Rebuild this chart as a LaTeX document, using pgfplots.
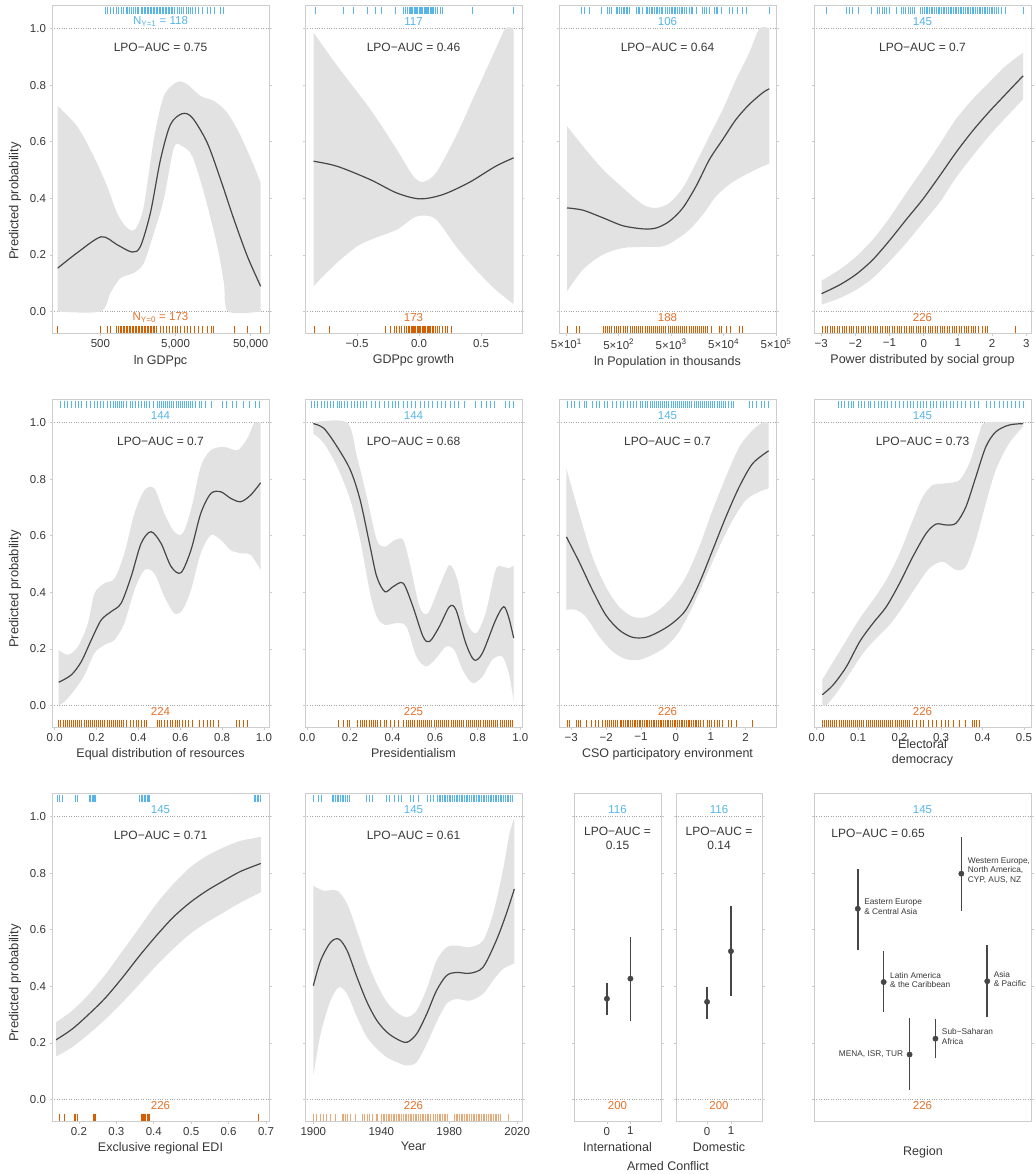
\documentclass[border=0pt]{standalone}
\usepackage{fontspec}
\setmainfont{Liberation Sans}
\usepackage{pgfplots}
\pgfplotsset{compat=1.18}
\usepgfplotslibrary{fillbetween}
\definecolor{rugblue}{RGB}{86,180,233}
\definecolor{rugorange}{RGB}{213,94,0}
\definecolor{txtorange}{RGB}{228,112,40}
\definecolor{bandc}{RGB}{226,226,226}
\definecolor{curvec}{RGB}{70,70,70}
\definecolor{framec}{RGB}{205,205,205}
\definecolor{dotc}{RGB}{165,165,165}
\definecolor{txt}{RGB}{55,55,55}

\pgfplotsset{
 pan/.style={
  scale only axis, width=217pt, height=328pt,
  ymin=-0.076, ymax=1.083,
  anchor=north west,
  axis line style={draw=framec, line width=0.8pt},
  ytick={0,0.2,0.4,0.6,0.8,1.0},
  yticklabels={},
  ytick pos=both, xtick pos=left,
  tick align=outside,
  major tick length=2.5pt,
  tick style={draw=framec, line width=0.7pt},
  tick label style={font=\fontsize{11.5}{13}\selectfont, text=txt},
  label style={font=\fontsize{12.5}{15}\selectfont, text=txt},
  extra y ticks={0,1},
  extra y tick labels={},
  extra y tick style={grid=major, major grid style={dotted, draw=dotc, line width=0.9pt}, major tick length=0pt},
  clip=true,
 },
 ylab/.style={yticklabels={0.0,0.2,0.4,0.6,0.8,1.0}},
}
\newcommand{\rugtop}[1]{\addplot[rugblue, only marks, mark=|, mark size=3.8pt, mark options={line width=1.0pt}] table[row sep=\\, header=false, x index=0, y expr=1.0635] {#1};}
\newcommand{\rugbot}[2][rugorange]{\addplot[#1, only marks, mark=|, mark size=3.5pt, mark options={line width=1.0pt}] table[row sep=\\, header=false, x index=0, y expr=-0.062] {#2};}
\newcommand{\counts}[2]{\node[font=\fontsize{11.5}{13}\selectfont, text=rugblue] at (rel axis cs:0.5,0.950) {#1};
 \node[font=\fontsize{11.5}{13}\selectfont, text=txtorange] at (rel axis cs:0.5,0.0466) {#2};}
\newcommand{\auc}[1]{\node[font=\fontsize{12}{14}\selectfont, text=txt] at (rel axis cs:0.5,0.872) {#1};}
\newcommand{\band}[3]{\addplot[name path=U#1, draw=none, smooth, no marks] coordinates {#2};
 \addplot[name path=L#1, draw=none, smooth, no marks] coordinates {#3};
 \addplot[fill=bandc, draw=none] fill between[of=U#1 and L#1];}
\newcommand{\meancurve}[1]{\addplot[draw=curvec, line width=1.2pt, smooth, no marks] coordinates {#1};}
\pgfplotsset{ptsty/.style={curvec, only marks, mark=*, mark size=2.7pt,
  error bars/.cd, y dir=both, y explicit, error bar style={line width=1.6pt, curvec}, error mark=none}}

\begin{document}
\begin{tikzpicture}

% ---------- Row 1 ----------
\begin{axis}[pan, ylab, at={(52pt,-5pt)}, xmin=2.055, xmax=4.943,
  xtick={2.69897,3.69897,4.69897}, xticklabels={500,{5,000},{50,000}}, xlabel={ln GDPpc}]
\band{a}{(2.130,0.726) (2.388,0.655) (2.610,0.549) (2.788,0.443) (2.921,0.348) (3.055,0.295) (3.166,0.292) (3.277,0.372) (3.410,0.608) (3.543,0.761) (3.721,0.811) (3.855,0.803) (4.032,0.761) (4.210,0.744) (4.388,0.702) (4.566,0.62) (4.743,0.514) (4.832,0.455)}
{(2.130,0) (2.699,0) (2.832,0.065) (2.966,0.118) (3.143,0.136) (3.277,0.171) (3.410,0.277) (3.543,0.396) (3.677,0.578) (3.788,0.584) (3.921,0.549) (4.077,0.419) (4.255,0.23) (4.343,0.10) (4.40,0) (4.832,0)}
\meancurve{(2.130,0.153) (2.388,0.207) (2.71,0.264) (2.921,0.236) (3.121,0.21) (3.232,0.23) (3.366,0.35) (3.499,0.537) (3.632,0.661) (3.788,0.699) (3.921,0.685) (4.121,0.596) (4.299,0.466) (4.477,0.325) (4.655,0.195) (4.832,0.089)}
\rugtop{2.77\\2.80\\2.84\\2.87\\2.91\\2.94\\2.98\\3.01\\3.04\\3.06\\3.09\\3.11\\3.14\\3.16\\3.19\\3.21\\3.24\\3.26\\3.28\\3.30\\3.32\\3.34\\3.36\\3.38\\3.40\\3.42\\3.44\\3.46\\3.48\\3.50\\3.52\\3.54\\3.56\\3.58\\3.60\\3.62\\3.64\\3.66\\3.69\\3.72\\3.75\\3.78\\3.81\\3.84\\3.87\\3.90\\3.93\\3.96\\4.00\\4.06\\4.12\\4.16\\4.22\\4.30\\4.34\\}
\rugbot{2.13\\2.70\\2.79\\2.83\\2.92\\2.94\\2.96\\2.98\\3.00\\3.02\\3.04\\3.06\\3.08\\3.10\\3.12\\3.14\\3.16\\3.18\\3.20\\3.22\\3.24\\3.26\\3.28\\3.30\\3.32\\3.34\\3.36\\3.38\\3.40\\3.42\\3.45\\3.50\\3.54\\3.58\\3.62\\3.66\\3.70\\3.73\\3.77\\3.82\\3.86\\3.90\\3.95\\4.00\\4.06\\4.12\\4.18\\4.21\\4.48\\4.66\\4.83\\}
\counts{N\textsubscript{Y=1} = 118}{N\textsubscript{Y=0} = 173}
\auc{LPO−AUC = 0.75}
\end{axis}

\begin{axis}[pan, at={(305pt,-5pt)}, xmin=-0.92, xmax=0.83,
  xtick={-0.5,0,0.5}, xticklabels={−0.5,0.0,0.5}, xlabel={GDPpc growth}]
\band{b}{(-0.851,0.986) (-0.660,0.868) (-0.394,0.715) (-0.181,0.573) (-0.048,0.479) (0.032,0.458) (0.138,0.491) (0.298,0.62) (0.457,0.773) (0.617,0.927) (0.697,1.0) (0.763,1.0)}
{(-0.851,0.09) (-0.660,0.173) (-0.500,0.23) (-0.394,0.253) (-0.181,0.289) (-0.048,0.33) (0.032,0.339) (0.138,0.325) (0.298,0.23) (0.457,0.148) (0.617,0.077) (0.763,0.026)}
\meancurve{(-0.851,0.531) (-0.660,0.513) (-0.394,0.466) (-0.181,0.419) (0.005,0.398) (0.191,0.413) (0.404,0.456) (0.617,0.513) (0.763,0.543)}
\rugtop{-0.832\\-0.606\\-0.527\\-0.42\\-0.354\\-0.30\\-0.194\\-0.128\\-0.11\\-0.095\\-0.08\\-0.07\\-0.06\\-0.05\\-0.04\\-0.03\\-0.02\\-0.01\\0.00\\0.01\\0.02\\0.03\\0.04\\0.05\\0.06\\0.07\\0.08\\0.09\\0.10\\0.11\\0.12\\0.13\\0.15\\0.17\\0.19\\0.431\\0.763\\}
\rugbot{-0.846\\-0.726\\-0.274\\-0.234\\-0.2\\-0.18\\-0.16\\-0.14\\-0.12\\-0.1\\-0.088\\-0.075\\-0.065\\-0.055\\-0.045\\-0.035\\-0.025\\-0.015\\-0.005\\0.005\\0.015\\0.025\\0.035\\0.045\\0.055\\0.065\\0.075\\0.085\\0.095\\0.105\\0.12\\0.135\\0.15\\0.165\\0.19\\0.21\\0.23\\0.26\\}
\counts{117}{173}
\auc{LPO−AUC = 0.46}
\end{axis}

\begin{axis}[pan, at={(559pt,-5pt)}, xmin=1.559, xmax=5.699,
  xtick={1.699,2.699,3.699,4.699,5.699},
  xticklabels={5×10\textsuperscript{1},5×10\textsuperscript{2},5×10\textsuperscript{3},5×10\textsuperscript{4},5×10\textsuperscript{5}},
  xlabel={ln Population in thousands}]
\band{c}{(1.712,0.655) (2.016,0.584) (2.397,0.502) (2.778,0.437) (3.159,0.378) (3.413,0.366) (3.667,0.384) (3.921,0.437) (4.175,0.525) (4.429,0.62) (4.683,0.714) (4.937,0.82) (5.191,0.915) (5.382,1.0) (5.572,1.0)}
{(1.712,0.071) (2.016,0.148) (2.397,0.201) (2.778,0.224) (3.159,0.228) (3.540,0.23) (3.794,0.254) (4.048,0.289) (4.302,0.342) (4.556,0.407) (4.810,0.449) (5.064,0.478) (5.318,0.502) (5.572,0.523)}
\meancurve{(1.712,0.366) (2.016,0.358) (2.397,0.331) (2.778,0.303) (3.159,0.292) (3.413,0.295) (3.667,0.319) (3.921,0.366) (4.175,0.443) (4.429,0.537) (4.683,0.608) (4.937,0.679) (5.191,0.732) (5.445,0.773) (5.572,0.787)}
\rugtop{1.985\\2.048\\2.143\\2.366\\2.49\\2.53\\2.56\\2.65\\2.68\\2.72\\2.75\\2.78\\2.81\\2.84\\2.87\\2.905\\3.03\\3.07\\3.10\\3.16\\3.22\\3.25\\3.29\\3.32\\3.35\\3.38\\3.41\\3.44\\3.48\\3.51\\3.54\\3.60\\3.63\\3.67\\3.70\\3.73\\3.76\\3.79\\3.82\\3.86\\3.89\\3.92\\3.95\\3.985\\4.05\\4.08\\4.11\\4.175\\4.30\\4.33\\4.37\\4.43\\4.52\\4.56\\4.59\\4.65\\4.81\\4.87\\4.97\\5.06\\5.13\\5.57\\}
\rugbot{1.73\\1.89\\1.95\\2.40\\2.44\\2.48\\2.52\\2.56\\2.62\\2.66\\2.70\\2.74\\2.78\\2.82\\2.86\\2.92\\2.96\\3.00\\3.04\\3.08\\3.12\\3.16\\3.20\\3.24\\3.28\\3.32\\3.36\\3.40\\3.44\\3.48\\3.52\\3.56\\3.60\\3.64\\3.68\\3.72\\3.76\\3.80\\3.84\\3.88\\3.92\\3.96\\4.00\\4.04\\4.08\\4.12\\4.16\\4.20\\4.24\\4.28\\4.32\\4.36\\4.40\\4.46\\4.62\\4.66\\4.75\\4.84\\5.00\\5.06\\}
\counts{106}{188}
\auc{LPO−AUC = 0.64}
\end{axis}

\begin{axis}[pan, at={(814pt,-5pt)}, xmin=-3.21, xmax=3.14,
  xtick={-3,-2,-1,0,1,2,3}, xticklabels={−3,−2,−1,0,1,2,3}, xlabel={Power distributed by social group}]
\band{d}{(-2.99,0.109) (-2.46,0.148) (-1.97,0.195) (-1.49,0.254) (-1.00,0.331) (-0.51,0.419) (-0.03,0.502) (0.46,0.59) (0.94,0.679) (1.43,0.75) (1.91,0.809) (2.40,0.868) (2.91,0.915)}
{(-2.99,0.024) (-2.46,0.047) (-1.97,0.077) (-1.49,0.118) (-1.00,0.177) (-0.51,0.242) (-0.03,0.313) (0.46,0.384) (0.94,0.472) (1.43,0.549) (1.91,0.62) (2.40,0.685) (2.91,0.75)}
\meancurve{(-2.99,0.063) (-2.46,0.094) (-1.97,0.132) (-1.49,0.183) (-1.00,0.251) (-0.51,0.325) (-0.03,0.396) (0.46,0.478) (0.94,0.561) (1.43,0.638) (1.91,0.705) (2.40,0.768) (2.91,0.833)}
\rugtop{-2.84\\-2.26\\-2.17\\-2.07\\-1.92\\-1.53\\-1.34\\-1.28\\-1.22\\-1.15\\-1.08\\-1.0\\-0.81\\-0.66\\-0.6\\-0.53\\-0.45\\-0.38\\-0.32\\-0.27\\-0.08\\-0.03\\0.02\\0.07\\0.12\\0.17\\0.22\\0.27\\0.32\\0.37\\0.42\\0.47\\0.52\\0.57\\0.62\\0.67\\0.72\\0.77\\0.82\\0.87\\0.92\\0.97\\1.02\\1.07\\1.12\\1.17\\1.22\\1.27\\1.32\\1.37\\1.42\\1.47\\1.52\\1.57\\1.62\\1.67\\1.72\\1.77\\1.82\\1.87\\1.92\\1.97\\2.02\\2.07\\2.12\\2.20\\2.28\\2.40\\2.93\\}
\rugbot{-2.95\\-2.88\\-2.81\\-2.74\\-2.67\\-2.60\\-2.53\\-2.46\\-2.39\\-2.32\\-2.25\\-2.18\\-2.11\\-2.04\\-1.97\\-1.90\\-1.83\\-1.76\\-1.69\\-1.62\\-1.55\\-1.48\\-1.41\\-1.34\\-1.27\\-1.20\\-1.13\\-1.06\\-0.99\\-0.92\\-0.85\\-0.78\\-0.71\\-0.64\\-0.57\\-0.50\\-0.43\\-0.36\\-0.29\\-0.22\\-0.15\\-0.08\\-0.01\\0.06\\0.13\\0.20\\0.27\\0.34\\0.41\\0.48\\0.55\\0.62\\0.69\\0.76\\0.83\\0.90\\0.97\\1.04\\1.11\\1.18\\1.25\\1.32\\1.39\\1.46\\1.53\\1.60\\1.72\\1.80\\1.86\\2.69\\}
\counts{145}{226}
\auc{LPO−AUC = 0.7}
\end{axis}

% ---------- Row 2 ----------
\begin{axis}[pan, ylab, at={(52pt,-399pt)}, xmin=-0.013, xmax=1.024,
  xtick={0,0.2,0.4,0.6,0.8,1}, xticklabels={0.0,0.2,0.4,0.6,0.8,1.0}, xlabel={Equal distribution of resources}]
\band{e}{(0.019,0.196) (0.063,0.179) (0.111,0.208) (0.159,0.291) (0.190,0.396) (0.238,0.432) (0.286,0.449) (0.333,0.538) (0.381,0.679) (0.429,0.761) (0.476,0.767) (0.524,0.679) (0.571,0.614) (0.611,0.608) (0.651,0.691) (0.698,0.844) (0.746,0.902) (0.810,0.914) (0.873,0.902) (0.921,0.944) (0.952,0.996) (0.984,1.0)}
{(0.019,0) (0.048,0.014) (0.095,0.055) (0.143,0.108) (0.190,0.185) (0.238,0.214) (0.286,0.232) (0.333,0.291) (0.381,0.408) (0.429,0.479) (0.476,0.467) (0.524,0.385) (0.571,0.326) (0.611,0.338) (0.651,0.408) (0.698,0.538) (0.746,0.602) (0.794,0.585) (0.841,0.549) (0.889,0.538) (0.937,0.532) (0.984,0.479)}
\meancurve{(0.019,0.082) (0.079,0.108) (0.127,0.155) (0.175,0.232) (0.222,0.302) (0.270,0.332) (0.317,0.361) (0.365,0.455) (0.413,0.573) (0.460,0.614) (0.508,0.573) (0.556,0.491) (0.603,0.469) (0.651,0.549) (0.698,0.679) (0.746,0.749) (0.794,0.755) (0.841,0.732) (0.889,0.72) (0.937,0.744) (0.984,0.787)}
\rugtop{0.03\\0.045\\0.06\\0.08\\0.10\\0.115\\0.13\\0.15\\0.17\\0.19\\0.205\\0.22\\0.235\\0.25\\0.265\\0.28\\0.29\\0.30\\0.31\\0.32\\0.33\\0.345\\0.36\\0.37\\0.385\\0.40\\0.415\\0.43\\0.44\\0.455\\0.47\\0.49\\0.50\\0.51\\0.52\\0.53\\0.54\\0.55\\0.56\\0.57\\0.58\\0.59\\0.60\\0.61\\0.62\\0.63\\0.64\\0.65\\0.66\\0.675\\0.69\\0.70\\0.72\\0.75\\0.80\\0.82\\0.85\\0.87\\0.90\\0.93\\0.96\\0.98\\}
\rugbot{0.02\\0.03\\0.04\\0.05\\0.06\\0.07\\0.08\\0.09\\0.10\\0.11\\0.12\\0.13\\0.14\\0.15\\0.16\\0.17\\0.18\\0.19\\0.20\\0.21\\0.22\\0.23\\0.24\\0.25\\0.26\\0.27\\0.28\\0.29\\0.30\\0.31\\0.32\\0.33\\0.345\\0.36\\0.375\\0.39\\0.40\\0.415\\0.43\\0.44\\0.49\\0.50\\0.51\\0.525\\0.54\\0.555\\0.565\\0.575\\0.585\\0.595\\0.61\\0.625\\0.64\\0.66\\0.69\\0.71\\0.73\\0.745\\0.76\\0.785\\0.87\\0.885\\0.90\\0.92\\}
\counts{144}{224}
\auc{LPO−AUC = 0.7}
\end{axis}

\begin{axis}[pan, at={(305pt,-399pt)}, xmin=-0.011, xmax=1.008,
  xtick={0,0.2,0.4,0.6,0.8,1}, xticklabels={0.0,0.2,0.4,0.6,0.8,1.0}, xlabel={Presidentialism}]
\band{f}{(0.028,1.0) (0.186,1.0) (0.233,0.879) (0.279,0.738) (0.326,0.585) (0.364,0.561) (0.411,0.585) (0.450,0.585) (0.481,0.502) (0.527,0.349) (0.566,0.326) (0.620,0.42) (0.667,0.496) (0.705,0.444) (0.744,0.302) (0.791,0.255) (0.837,0.326) (0.884,0.479) (0.915,0.491) (0.946,0.485) (0.969,0.496)}
{(0.028,0.961) (0.078,0.926) (0.140,0.844) (0.202,0.726) (0.248,0.585) (0.295,0.396) (0.326,0.314) (0.364,0.285) (0.419,0.291) (0.465,0.279) (0.512,0.173) (0.558,0.138) (0.605,0.167) (0.651,0.208) (0.690,0.196) (0.729,0.126) (0.775,0.079) (0.822,0.102) (0.868,0.161) (0.915,0.173) (0.946,0.114) (0.969,0.014)}
\meancurve{(0.028,0.996) (0.078,0.979) (0.140,0.914) (0.202,0.832) (0.248,0.726) (0.295,0.561) (0.326,0.455) (0.364,0.402) (0.403,0.42) (0.450,0.432) (0.496,0.349) (0.543,0.244) (0.574,0.226) (0.620,0.279) (0.667,0.349) (0.698,0.338) (0.744,0.22) (0.783,0.161) (0.822,0.185) (0.884,0.302) (0.922,0.349) (0.946,0.31) (0.969,0.238)}
\rugtop{0.02\\0.035\\0.05\\0.065\\0.08\\0.095\\0.11\\0.125\\0.14\\0.15\\0.16\\0.175\\0.19\\0.205\\0.22\\0.235\\0.25\\0.265\\0.28\\0.30\\0.32\\0.34\\0.36\\0.38\\0.40\\0.415\\0.43\\0.45\\0.47\\0.49\\0.51\\0.53\\0.55\\0.57\\0.59\\0.61\\0.63\\0.65\\0.67\\0.69\\0.71\\0.74\\0.79\\0.82\\0.84\\0.86\\0.88\\0.93\\0.95\\0.97\\}
\rugbot{0.147\\0.17\\0.19\\0.20\\0.235\\0.25\\0.26\\0.27\\0.28\\0.29\\0.30\\0.31\\0.32\\0.33\\0.345\\0.36\\0.37\\0.39\\0.41\\0.43\\0.45\\0.465\\0.475\\0.485\\0.495\\0.505\\0.515\\0.525\\0.535\\0.545\\0.555\\0.565\\0.575\\0.585\\0.595\\0.605\\0.615\\0.625\\0.635\\0.645\\0.655\\0.665\\0.675\\0.685\\0.695\\0.705\\0.715\\0.725\\0.735\\0.745\\0.755\\0.765\\0.775\\0.785\\0.795\\0.805\\0.815\\0.825\\0.835\\0.845\\0.855\\0.865\\0.875\\0.885\\0.895\\0.905\\0.915\\0.925\\0.935\\0.945\\0.955\\0.965\\}
\counts{144}{225}
\auc{LPO−AUC = 0.68}
\end{axis}

\begin{axis}[pan, at={(559pt,-399pt)}, xmin=-3.35, xmax=2.87,
  xtick={-3,-2,-1,0,1,2}, xticklabels={−3,−2,−1,0,1,2}, xlabel={CSO participatory environment}]
\band{g}{(-3.139,0.838) (-2.775,0.679) (-2.392,0.526) (-2.010,0.42) (-1.627,0.349) (-1.244,0.314) (-0.861,0.312) (-0.478,0.338) (-0.096,0.385) (0.287,0.455) (0.670,0.561) (1.053,0.691) (1.435,0.808) (1.818,0.914) (2.201,0.973) (2.488,1.0) (2.660,1.0)}
{(-3.139,0.338) (-2.871,0.338) (-2.584,0.314) (-2.201,0.244) (-1.818,0.191) (-1.435,0.164) (-1.053,0.161) (-0.670,0.179) (-0.287,0.208) (0.096,0.261) (0.478,0.349) (0.861,0.455) (1.244,0.561) (1.627,0.655) (2.010,0.726) (2.392,0.755) (2.660,0.767)}
\meancurve{(-3.139,0.596) (-2.775,0.508) (-2.392,0.408) (-2.010,0.32) (-1.627,0.267) (-1.244,0.241) (-0.861,0.241) (-0.478,0.261) (-0.096,0.291) (0.287,0.338) (0.670,0.432) (1.053,0.549) (1.435,0.667) (1.818,0.773) (2.201,0.855) (2.660,0.9)}
\rugtop{-3.12\\-3.0\\-2.92\\-2.75\\-2.62\\-2.55\\-2.4\\-2.28\\-2.2\\-2.05\\-1.95\\-1.82\\-1.7\\-1.6\\-1.5\\-1.4\\-1.3\\-1.22\\-1.12\\-1.02\\-0.95\\-0.88\\-0.8\\-0.74\\-0.68\\-0.62\\-0.56\\-0.5\\-0.44\\-0.38\\-0.32\\-0.26\\-0.2\\-0.14\\-0.08\\-0.02\\0.04\\0.1\\0.16\\0.22\\0.28\\0.34\\0.4\\0.46\\0.52\\0.58\\0.64\\0.7\\0.76\\0.82\\0.88\\0.94\\1.0\\1.06\\1.12\\1.18\\1.24\\1.3\\1.36\\1.42\\1.5\\1.58\\1.66\\2.1\\2.2\\2.32\\2.44\\2.55\\2.66\\}
\rugbot{-3.11\\-3.04\\-2.85\\-2.78\\-2.72\\-2.55\\-2.42\\-2.3\\-2.22\\-2.1\\-2.03\\-1.96\\-1.9\\-1.84\\-1.78\\-1.72\\-1.66\\-1.6\\-1.55\\-1.5\\-1.45\\-1.4\\-1.35\\-1.3\\-1.25\\-1.2\\-1.15\\-1.1\\-1.05\\-1.0\\-0.95\\-0.9\\-0.85\\-0.8\\-0.75\\-0.7\\-0.65\\-0.6\\-0.55\\-0.5\\-0.45\\-0.4\\-0.35\\-0.3\\-0.25\\-0.2\\-0.15\\-0.1\\-0.05\\0.0\\0.05\\0.1\\0.15\\0.2\\0.25\\0.3\\0.35\\0.4\\0.45\\0.5\\0.55\\0.6\\0.65\\0.7\\0.8\\0.9\\0.95\\1.02\\1.1\\1.2\\1.25\\1.35\\1.5\\1.6\\1.75\\2.2\\}
\counts{145}{226}
\auc{LPO−AUC = 0.7}
\end{axis}

\begin{axis}[pan, at={(814pt,-399pt)}, xmin=-0.0064, xmax=0.517,
  xtick={0,0.1,0.2,0.3,0.4,0.5}, xticklabels={0.0,0.1,0.2,0.3,0.4,0.5},
  xlabel={Electoral\\democracy}, xlabel style={align=center, yshift=9pt}]
\band{h}{(0.0136,0.091) (0.040,0.155) (0.072,0.232) (0.104,0.308) (0.136,0.373) (0.168,0.444) (0.200,0.538) (0.232,0.655) (0.256,0.738) (0.280,0.779) (0.312,0.785) (0.344,0.796) (0.368,0.855) (0.392,0.961) (0.408,1.0) (0.498,1.0)}
{(0.0136,0) (0.024,0.002) (0.048,0.044) (0.080,0.114) (0.112,0.185) (0.144,0.238) (0.176,0.285) (0.208,0.349) (0.240,0.42) (0.272,0.485) (0.304,0.508) (0.336,0.479) (0.360,0.491) (0.384,0.585) (0.408,0.714) (0.432,0.832) (0.464,0.926) (0.498,0.985)}
\meancurve{(0.0136,0.038) (0.040,0.073) (0.072,0.138) (0.104,0.226) (0.136,0.291) (0.168,0.349) (0.200,0.432) (0.232,0.526) (0.264,0.608) (0.288,0.641) (0.312,0.638) (0.336,0.644) (0.360,0.702) (0.384,0.808) (0.408,0.914) (0.432,0.967) (0.464,0.991) (0.498,0.996)}
\rugtop{0.052\\0.06\\0.068\\0.076\\0.084\\0.09\\0.1\\0.108\\0.116\\0.124\\0.13\\0.14\\0.148\\0.156\\0.164\\0.172\\0.18\\0.19\\0.2\\0.21\\0.218\\0.226\\0.234\\0.242\\0.25\\0.258\\0.266\\0.274\\0.282\\0.29\\0.298\\0.306\\0.314\\0.322\\0.33\\0.34\\0.35\\0.36\\0.37\\0.38\\0.39\\0.41\\0.42\\0.43\\0.44\\0.45\\0.46\\0.47\\0.48\\0.49\\0.5\\}
\rugbot{0.014\\0.019\\0.024\\0.029\\0.034\\0.039\\0.044\\0.049\\0.054\\0.059\\0.064\\0.069\\0.074\\0.079\\0.084\\0.089\\0.094\\0.099\\0.104\\0.109\\0.114\\0.119\\0.124\\0.129\\0.134\\0.139\\0.144\\0.149\\0.154\\0.159\\0.164\\0.169\\0.174\\0.179\\0.184\\0.189\\0.194\\0.199\\0.204\\0.209\\0.214\\0.219\\0.224\\0.232\\0.24\\0.25\\0.258\\0.27\\0.28\\0.29\\0.3\\0.31\\0.318\\0.33\\0.345\\0.36\\0.375\\0.38\\0.385\\0.392\\}
\counts{145}{226}
\auc{LPO−AUC = 0.73}
\end{axis}

% ---------- Row 3 ----------
\begin{axis}[pan, ylab, at={(52pt,-793pt)}, xmin=0.128, xmax=0.708,
  xtick={0.2,0.3,0.4,0.5,0.6,0.7}, xticklabels={0.2,0.3,0.4,0.5,0.6,0.7}, xlabel={Exclusive regional EDI}]
\band{i}{(0.139,0.273) (0.182,0.314) (0.227,0.373) (0.272,0.444) (0.317,0.526) (0.362,0.608) (0.407,0.691) (0.452,0.761) (0.497,0.82) (0.542,0.861) (0.587,0.891) (0.632,0.914) (0.686,0.928)}
{(0.139,0.152) (0.182,0.185) (0.227,0.232) (0.272,0.285) (0.317,0.344) (0.362,0.408) (0.407,0.473) (0.452,0.532) (0.497,0.585) (0.542,0.626) (0.587,0.661) (0.632,0.696) (0.686,0.732)}
\meancurve{(0.139,0.211) (0.182,0.249) (0.227,0.302) (0.272,0.361) (0.317,0.432) (0.362,0.508) (0.407,0.579) (0.452,0.644) (0.497,0.696) (0.542,0.738) (0.587,0.773) (0.632,0.806) (0.686,0.834)}
\rugtop{0.1415\\0.149\\0.155\\0.190\\0.192\\0.1955\\0.229\\0.232\\0.235\\0.238\\0.241\\0.245\\0.362\\0.366\\0.370\\0.374\\0.378\\0.382\\0.386\\0.389\\0.668\\0.672\\0.676\\0.680\\0.684\\0.686\\}
\rugbot{0.149\\0.161\\0.189\\0.192\\0.196\\0.238\\0.241\\0.245\\0.366\\0.370\\0.373\\0.376\\0.379\\0.382\\0.385\\0.389\\0.681\\}
\counts{145}{226}
\auc{LPO−AUC = 0.71}
\end{axis}

\begin{axis}[pan, at={(305pt,-793pt)}, xmin=1895.1, xmax=2022.8,
  xtick={1900,1940,1980,2020}, xticklabels={1900,1940,1980,2020}, xlabel={Year}]
\band{j}{(1900,0.755) (1906.2,0.738) (1914.0,0.738) (1919.9,0.691) (1925.7,0.596) (1931.6,0.491) (1937.4,0.408) (1943.3,0.344) (1949.1,0.308) (1955.0,0.291) (1960.8,0.314) (1966.7,0.391) (1972.5,0.491) (1978.4,0.538) (1984.2,0.544) (1992.0,0.538) (1999.8,0.561) (2005.7,0.655) (2011.5,0.808) (2015.4,0.938) (2018.3,0.996)}
{(1900,0.085) (1904.3,0.232) (1910.1,0.349) (1915.0,0.396) (1919.9,0.373) (1925.7,0.291) (1931.6,0.22) (1937.4,0.179) (1943.3,0.149) (1949.1,0.132) (1955.0,0.12) (1960.8,0.132) (1966.7,0.196) (1972.5,0.273) (1978.4,0.338) (1984.2,0.355) (1992.0,0.349) (1999.8,0.373) (2005.7,0.42) (2011.5,0.461) (2018.3,0.481)}
\meancurve{(1900,0.402) (1904.3,0.491) (1910.1,0.555) (1915.0,0.567) (1919.9,0.526) (1925.7,0.432) (1931.6,0.344) (1937.4,0.279) (1943.3,0.238) (1949.1,0.214) (1955.0,0.202) (1960.8,0.232) (1966.7,0.302) (1972.5,0.385) (1978.4,0.438) (1984.2,0.449) (1992.0,0.446) (1999.8,0.467) (2007.6,0.561) (2013.5,0.655) (2018.3,0.744)}
\rugtop{1900\\1903\\1905\\1911\\1912\\1913\\1914\\1915\\1916\\1917\\1918\\1919\\1920\\1921\\1931\\1933\\1935\\1943\\1945\\1948\\1950\\1952\\1957\\1959\\1962\\1967\\1969\\1971\\1973\\1974\\1975\\1976\\1977\\1978\\1979\\1980\\1981\\1982\\1983\\1984\\1985\\1986\\1987\\1988\\1989\\1990\\1991\\1992\\1993\\1994\\1995\\1996\\1997\\1998\\1999\\2000\\2001\\2002\\2003\\2004\\2005\\2006\\2007\\2008\\2009\\2010\\2011\\2012\\2013\\2014\\2015\\2016\\2017\\}
\rugbot[rugorange!55]{1900\\1902\\1904\\1906\\1908\\1910\\1913\\1917\\1918\\1919\\1920\\1922\\1925\\1929\\1930\\1932\\1933\\1935\\1937\\1938\\1940\\1941\\1942\\1943\\1944\\1945\\1946\\1947\\1948\\1949\\1950\\1951\\1952\\1953\\1954\\1955\\1956\\1957\\1958\\1959\\1960\\1961\\1962\\1963\\1964\\1965\\1966\\1967\\1968\\1969\\1971\\1972\\1973\\1974\\1975\\1976\\1977\\1978\\1979\\1983\\1984\\1985\\1986\\1987\\1988\\1989\\1990\\1991\\1992\\1993\\1994\\1995\\1996\\1997\\1998\\1999\\2000\\2001\\2002\\2003\\2004\\2005\\2006\\2007\\2008\\2009\\2010\\2015\\}
\counts{145}{226}
\auc{LPO−AUC = 0.61}
\end{axis}

\begin{axis}[pan, width=87pt, at={(574pt,-793pt)}, xmin=-1.4, xmax=2.3,
  xtick={0,1}, xticklabels={0,1}, xlabel={International}]
\addplot[ptsty] coordinates {(0,0.356) += (0,0.056) -= (0,0.056) (1,0.427) += (0,0.147) -= (0,0.151)};
\counts{116}{200}
\node[font=\fontsize{12}{14}\selectfont, text=txt, align=center] at (rel axis cs:0.5,0.861) {LPO−AUC =\\0.15};
\end{axis}

\begin{axis}[pan, width=86pt, at={(676pt,-793pt)}, xmin=-1.3, xmax=2.3,
  xtick={0,1}, xticklabels={0,1}, xlabel={Domestic}]
\addplot[ptsty] coordinates {(0,0.345) += (0,0.053) -= (0,0.059) (1,0.524) += (0,0.158) -= (0,0.159)};
\counts{116}{200}
\node[font=\fontsize{12}{14}\selectfont, text=txt, align=center] at (rel axis cs:0.5,0.861) {LPO−AUC =\\0.14};
\end{axis}

\begin{axis}[pan, at={(814pt,-793pt)}, xmin=-0.69, xmax=7.69, xtick=\empty]
\addplot[ptsty] coordinates {(1,0.674) += (0,0.141) -= (0,0.145) (2,0.415) += (0,0.109) -= (0,0.107) (3,0.159) += (0,0.129) -= (0,0.127) (4,0.215) += (0,0.070) -= (0,0.070) (5,0.798) += (0,0.131) -= (0,0.131) (6,0.418) += (0,0.129) -= (0,0.127)};
\counts{145}{226}
\node[font=\fontsize{12}{14}\selectfont, text=txt, anchor=west] at (rel axis cs:0.064,0.876) {LPO−AUC = 0.65};
\begin{scope}[every node/.style={font=\fontsize{8.3}{9.5}\selectfont, text=txt, align=left}]
\node[anchor=west, xshift=3pt, yshift=2pt] at (axis cs:1,0.674) {Eastern Europe\\\& Central Asia};
\node[anchor=west, xshift=3pt, yshift=2pt] at (axis cs:2,0.415) {Latin America\\\& the Caribbean};
\node[anchor=east, xshift=-3pt] at (axis cs:3,0.159) {MENA, ISR, TUR};
\node[anchor=west, xshift=3pt, yshift=2pt] at (axis cs:4,0.215) {Sub−Saharan\\Africa};
\node[anchor=west, xshift=3pt, yshift=3pt] at (axis cs:5,0.798) {Western Europe,\\North America,\\CYP, AUS, NZ};
\node[anchor=west, xshift=3pt, yshift=2pt] at (axis cs:6,0.418) {Asia\\\& Pacific};
\end{scope}
\end{axis}

% outer labels
\begin{scope}[every node/.style={font=\fontsize{13}{15}\selectfont, text=txt}]
\node[rotate=90] at (15pt,-201pt) {Predicted probability};
\node[rotate=90] at (15pt,-589pt) {Predicted probability};
\node[rotate=90] at (15pt,-983pt) {Predicted probability};
\end{scope}
\node[font=\fontsize{12.5}{15}\selectfont, text=txt] at (668pt,-1166pt) {Armed Conflict};
\node[font=\fontsize{12.5}{15}\selectfont, text=txt] at (923pt,-1152pt) {Region};
\pgfresetboundingbox
\useasboundingbox (0,0) rectangle (1035pt,-1174pt);
\end{tikzpicture}
\end{document}
